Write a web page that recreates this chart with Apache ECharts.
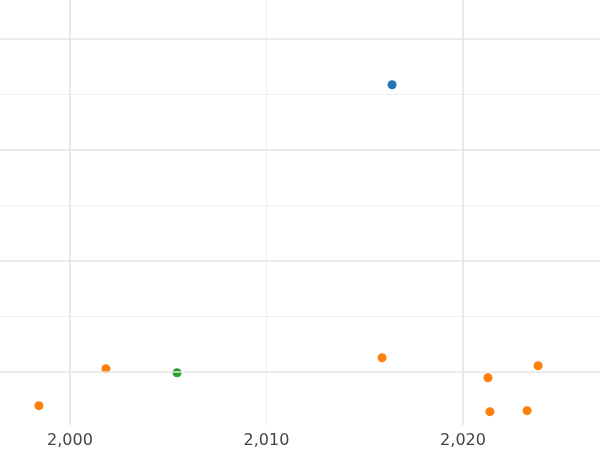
<!DOCTYPE html>
<html><head><meta charset="utf-8">
<script src="https://cdn.jsdelivr.net/npm/echarts@6/dist/echarts.min.js"></script>
<style>html,body{margin:0;padding:0;background:#fff}#c{width:600px;height:450px}</style>
</head><body><div id="c"></div>
<script>
const xTicks = [2000, 2010, 2020];
const majorY = [0, 1, 2, 3];
const minorY = [-0.5, 0.5, 1.5, 2.5];
const majorX = [2000, 2020];
const minorX = [2010];
const blueData = [[2016.39, 2.586]];
const orangeData = [[1998.42, -0.306], [2001.83, 0.027], [2015.88, 0.126], [2021.27, -0.054], [2021.37, -0.36], [2023.26, -0.351], [2023.82, 0.054]];
const greenData = [[2005.45, -0.009]];

const lines = [];
majorY.forEach(v => lines.push({yAxis: v, lineStyle: {color: '#e4e4e4', width: 1.6, type: 'solid'}}));
minorY.forEach(v => lines.push({yAxis: v, lineStyle: {color: '#f0f0f0', width: 1, type: 'solid'}}));
majorX.forEach(v => lines.push({xAxis: v, lineStyle: {color: '#e4e4e4', width: 1.6, type: 'solid'}}));
minorX.forEach(v => lines.push({xAxis: v, lineStyle: {color: '#f0f0f0', width: 1, type: 'solid'}}));

const chart = echarts.init(document.getElementById('c'));
chart.setOption({
  animation: false,
  grid: {left: 0, right: 0, top: 0, bottom: 25},
  xAxis: {type: 'value', min: 1996.44, max: 2026.97,
    axisLine: {show: false}, axisTick: {show: false}, splitLine: {show: false},
    axisLabel: {customValues: xTicks, color: '#444', fontSize: 16, margin: 8, fontFamily: 'DejaVu Sans'}},
  yAxis: {type: 'value', min: -0.48, max: 3.35, show: false, splitLine: {show: false}},
  series: [
    {type: 'scatter', data: [], silent: true,
      markLine: {silent: true, symbol: 'none', label: {show: false}, data: lines}},
    {type: 'scatter', data: blueData, symbolSize: 9, itemStyle: {color: '#1f77b4', opacity: 1}},
    {type: 'scatter', data: orangeData, symbolSize: 9, itemStyle: {color: '#ff7f0e', opacity: 1}},
    {type: 'scatter', data: greenData, symbolSize: 9, itemStyle: {color: '#2ca02c', opacity: 1}}
  ]
});
</script></body></html>
